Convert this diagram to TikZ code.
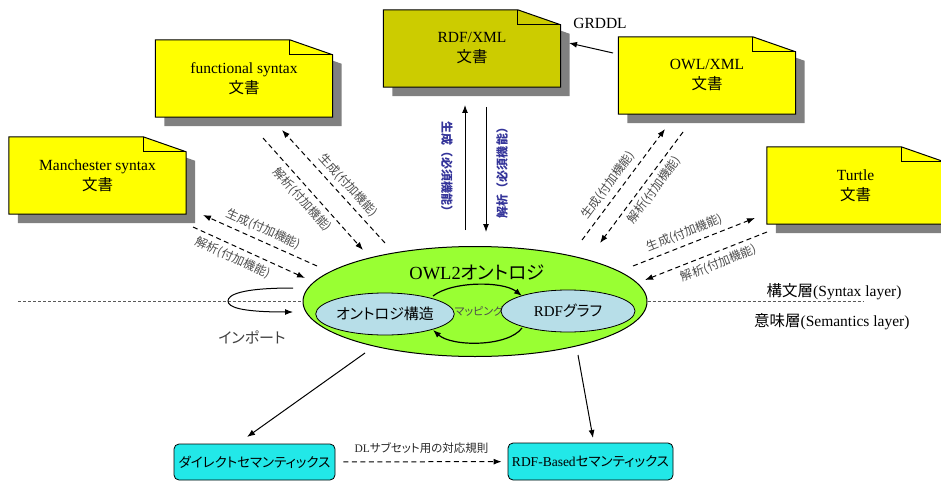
\documentclass[tikz,border=0pt]{standalone}
\usepackage{fontspec}
\setmainfont{Liberation Serif}
\newfontfamily\jp[RawFeature=+palt]{Noto Sans CJK JP}
\newfontfamily\jpw{Noto Sans CJK JP}
\usetikzlibrary{shapes.geometric,arrows.meta,calc}
\pgfdeclarelayer{background}
\pgfsetlayers{background,main}
\definecolor{docyellow}{HTML}{FFFF00}
\definecolor{docolive}{HTML}{CCCC00}
\definecolor{shadowgray}{HTML}{808080}
\definecolor{owlgreen}{HTML}{99FF33}
\definecolor{innerblue}{HTML}{B7DEE8}
\definecolor{semcyan}{HTML}{22E8E8}
\definecolor{reqblue}{HTML}{333399}
\tikzset{
  docnode/.style={minimum width=177pt, minimum height=77pt, inner sep=0pt, align=center,
    font=\fontsize{15.5}{20}\selectfont},
  tip/.style={-{Latex[length=8pt,width=6pt]}},
  solidarrow/.style={tip, line width=1pt},
  dasharrow/.style={tip, dash pattern=on 5pt off 3.5pt, line width=1pt},
  optlab/.style={font=\jp\fontsize{12}{14}\selectfont, text=black!70, sloped, inner sep=2pt},
  reqlab/.style={font=\jpw\bfseries\fontsize{12}{14}\selectfont, text=reqblue},
  sepline/.style={draw=black!65, dash pattern=on 3pt off 2pt, line width=0.8pt},
  innerell/.style={ellipse, draw, line width=0.8pt, fill=innerblue, minimum width=134pt,
    minimum height=42pt, inner sep=0pt},
  sembox/.style={rounded corners=5pt, draw, line width=0.8pt, fill=semcyan, minimum height=36pt,
    inner sep=0pt, font=\fontsize{13.5}{15}\selectfont},
}
\newcommand\docbox[4]{%
  \node[docnode] (#1) at #2 {#4};
  \begin{pgfonlayer}{background}
    \fill[shadowgray] ([shift={(9pt,-9pt)}]#1.south west) -- ([shift={(9pt,-9pt)}]#1.south east)
      -- ([shift={(9pt,-24pt)}]#1.north east) -- ([shift={(-34pt,-9pt)}]#1.north east)
      -- ([shift={(9pt,-9pt)}]#1.north west) -- cycle;
    \draw[fill=#3, line width=1pt] (#1.south west) -- (#1.south east) -- ([yshift=-15pt]#1.north east)
      -- ([xshift=-43pt]#1.north east) -- (#1.north west) -- cycle;
    \draw[line width=1pt] ([xshift=-43pt]#1.north east) -- ([shift={(-43pt,-15pt)}]#1.north east)
      -- ([yshift=-15pt]#1.north east);
  \end{pgfonlayer}}
\begin{document}
\begin{tikzpicture}[x=1pt,y=-1pt]
\useasboundingbox (0,0) rectangle (941,481);
% documents
\docbox{fs}{(244,78.5)}{docyellow}{functional syntax\\{\jp 文書}}
\docbox{ms}{(97.5,175.5)}{docyellow}{Manchester syntax\\{\jp 文書}}
\docbox{rx}{(472,48.5)}{docolive}{RDF/XML\\{\jp 文書}}
\docbox{ox}{(707,75.5)}{docyellow}{OWL/XML\\{\jp 文書}}
\docbox{tt}{(855.5,185.5)}{docyellow}{Turtle\\{\jp 文書}}
% ontology ellipse
\node[ellipse, draw, line width=1pt, fill=owlgreen, minimum width=344pt, minimum height=110pt, inner sep=0pt] (owl) at (475,301.5) {};
\node[font=\fontsize{18.5}{20}\selectfont] (owlt) at (477,272) {OWL2{\jp オントロジ}};
\node[font=\jp\fontsize{11}{12}\selectfont, text=black!70] (map) at (479,311) {マッピング};
\node[innerell, font=\jp\fontsize{15}{16}\selectfont] (ont) at (385,314) {オントロジ構造};
\node[innerell, font=\fontsize{15}{16}\selectfont] (rdfg) at (568,311) {RDF{\jp グラフ}};
% mapping arcs
\coordinate (m1) at (433,296);
\coordinate (m2) at (522,296);
\coordinate (m3) at (522,328);
\coordinate (m4) at (433,330);
\draw[tip, line width=1.2pt] (m1) .. controls (452,281) and (503,281) .. (m2);
\draw[tip, line width=1.2pt] (m3) .. controls (508,347) and (452,347) .. (m4);
% separator lines
\coordinate (sl) at (18,301.5);
\coordinate (sr) at (863,301.5);
\draw[sepline] (sl) -- (owl.west);
\draw[sepline] (owl.east) -- (sr);
\node[font=\fontsize{15.5}{18}\selectfont, anchor=east] (syn) at (905,292) {{\jp 構文層}(Syntax layer)};
\node[font=\fontsize{15.5}{18}\selectfont, anchor=east] (sem) at (913,322) {{\jp 意味層}(Semantics layer)};
% import loop
\coordinate (i1) at (293,288);
\coordinate (iloop) at (228,301);
\coordinate (i2) at (293,312);
\draw[solidarrow] (i1) .. controls (240,288) and (228,295) .. (iloop) .. controls (228,307) and (240,312) .. (i2);
\node[font=\jp\fontsize{15}{16}\selectfont, text=black!75] (imp) at (252,337) {インポート};
% RDF/XML required arrows
\coordinate (u1) at (465,230);
\coordinate (u2) at (465,105);
\coordinate (d1) at (486,107);
\coordinate (d2) at (486,232);
\draw[solidarrow] (u1) -- (u2);
\draw[solidarrow] (d1) -- (d2);
\node[reqlab, rotate=-90] (gen) at (447,170) {生成（必須機能）};
\node[reqlab, rotate=90] (par) at (502,170) {解析（必須機能）};
% GRDDL
\node[font=\fontsize{15.5}{18}\selectfont] (grddl) at (600,23) {GRDDL};
\coordinate (g1) at (613,53);
\coordinate (g2) at (569,43);
\draw[solidarrow] (g1) -- (g2);
% optional arrows: functional syntax
\coordinate (fsA) at (385,243);
\coordinate (fsB) at (282,130);
\coordinate (fsC) at (263,138);
\coordinate (fsD) at (363,250);
\draw[dasharrow] (fsA) -- node[optlab, pos=0.44, above=3pt] {生成(付加機能)} (fsB);
\draw[dasharrow] (fsC) -- node[optlab, pos=0.48, below=3pt] {解析(付加機能)} (fsD);
% Manchester
\coordinate (msA) at (317,266);
\coordinate (msB) at (203,215);
\coordinate (msC) at (193,227);
\coordinate (msD) at (305,278);
\draw[dasharrow] (msA) -- node[optlab, pos=0.51, above=3pt] {生成(付加機能)} (msB);
\draw[dasharrow] (msC) -- node[optlab, pos=0.4, below=3pt] {解析(付加機能)} (msD);
% OWL/XML
\coordinate (oxA) at (582,240);
\coordinate (oxB) at (665,129);
\coordinate (oxC) at (683,132);
\coordinate (oxD) at (600,243);
\draw[dasharrow] (oxA) -- node[optlab, pos=0.43, above=3pt] {生成(付加機能)} (oxB);
\draw[dasharrow] (oxC) -- node[optlab, pos=0.46, below=3pt] {解析(付加機能)} (oxD);
% Turtle
\coordinate (ttA) at (633,266);
\coordinate (ttB) at (755,218);
\coordinate (ttC) at (767,232);
\coordinate (ttD) at (645,280);
\draw[dasharrow] (ttA) -- node[optlab, pos=0.46, above=3pt] {生成(付加機能)} (ttB);
\draw[dasharrow] (ttC) -- node[optlab, pos=0.43, below=3pt] {解析(付加機能)} (ttD);
% semantics boxes
\node[sembox, minimum width=161pt, font=\jp\fontsize{13.5}{15}\selectfont] (dir) at (254.5,462) {ダイレクトセマンティックス};
\node[sembox, minimum width=165pt, minimum height=37pt] (rbs) at (590.5,461.5) {RDF-Based{\jp セマンティックス}};
\coordinate (a1) at (365,353);
\coordinate (a2) at (247,437);
\coordinate (b1) at (578,355);
\coordinate (b2) at (593,438);
\draw[solidarrow] (a1) -- (a2);
\draw[solidarrow] (b1) -- (b2);
\draw[dasharrow, shorten <=8pt, shorten >=6pt] (dir) -- node[above=4pt, font=\fontsize{11.5}{13}\selectfont, text=black!85] (dl) {DL{\jp サブセット用の対応規則}} (rbs);
\end{tikzpicture}
\end{document}
